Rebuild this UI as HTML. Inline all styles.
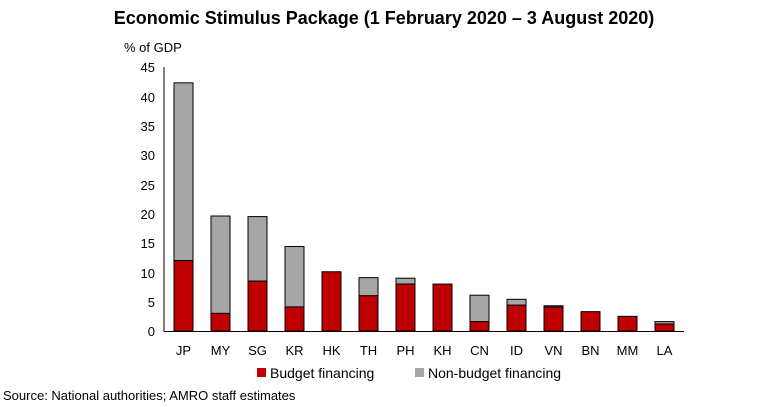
<!DOCTYPE html>
<html><head><meta charset="utf-8"><style>
body{margin:0;background:#fff;}
svg{display:block;font-family:"Liberation Sans",Arial,sans-serif;}
</style></head><body>
<svg width="768" height="407" viewBox="0 0 768 407">
<text x="384" y="24" text-anchor="middle" font-size="18" font-weight="bold" fill="#000">Economic Stimulus Package (1 February 2020 – 3 August 2020)</text>
<text x="124" y="52" font-size="13" fill="#000">% of GDP</text>
<g font-size="13" fill="#000" text-anchor="end">
<text x="155" y="336">0</text><text x="155" y="307">5</text><text x="155" y="278">10</text><text x="155" y="248">15</text><text x="155" y="219">20</text><text x="155" y="190">25</text><text x="155" y="160">30</text><text x="155" y="131">35</text><text x="155" y="102">40</text><text x="155" y="72">45</text>
</g>
<g id="bars" stroke="#000" stroke-width="1"></g>
<line x1="164" y1="67" x2="164" y2="331.5" stroke="#000"/>
<line x1="164" y1="331.5" x2="684" y2="331.5" stroke="#000"/>
<g font-size="13" fill="#000" text-anchor="middle" id="xl"></g>
<rect x="257" y="368" width="9" height="9" fill="#c00000"/>
<text x="270" y="378" font-size="14" fill="#000">Budget financing</text>
<rect x="415" y="368" width="9" height="9" fill="#a6a6a6"/>
<text x="428" y="378" font-size="14" fill="#000">Non-budget financing</text>
<text x="3" y="400" font-size="13" fill="#000">Source: National authorities; AMRO staff estimates</text>
<script>
var d=[["JP",12,42.3],["MY",3,19.6],["SG",8.5,19.5],["KR",4.1,14.4],["HK",10.1,0],["TH",6,9.1],["PH",8,9],["KH",8,0],["CN",1.6,6.1],["ID",4.4,5.4],["VN",4.1,4.3],["BN",3.3,0],["MM",2.5,0],["LA",1.2,1.6]];
var ns="http://www.w3.org/2000/svg",g=document.getElementById("bars"),xl=document.getElementById("xl");
var y0=331,k=5.867;
d.forEach(function(r,i){var cx=183.5+i*37.0,w=19;
 if(r[2]>r[1]){var t=document.createElementNS(ns,"rect");t.setAttribute("x",cx-w/2);t.setAttribute("y",y0-r[2]*k);t.setAttribute("width",w);t.setAttribute("height",(r[2]-r[1])*k);t.setAttribute("fill","#a6a6a6");g.appendChild(t);}
 var b=document.createElementNS(ns,"rect");b.setAttribute("x",cx-w/2);b.setAttribute("y",y0-r[1]*k);b.setAttribute("width",w);b.setAttribute("height",r[1]*k);b.setAttribute("fill","#c00000");g.appendChild(b);
 var tx=document.createElementNS(ns,"text");tx.setAttribute("x",cx);tx.setAttribute("y",355);tx.textContent=r[0];xl.appendChild(tx);
});
</script>
</svg>
</body></html>
